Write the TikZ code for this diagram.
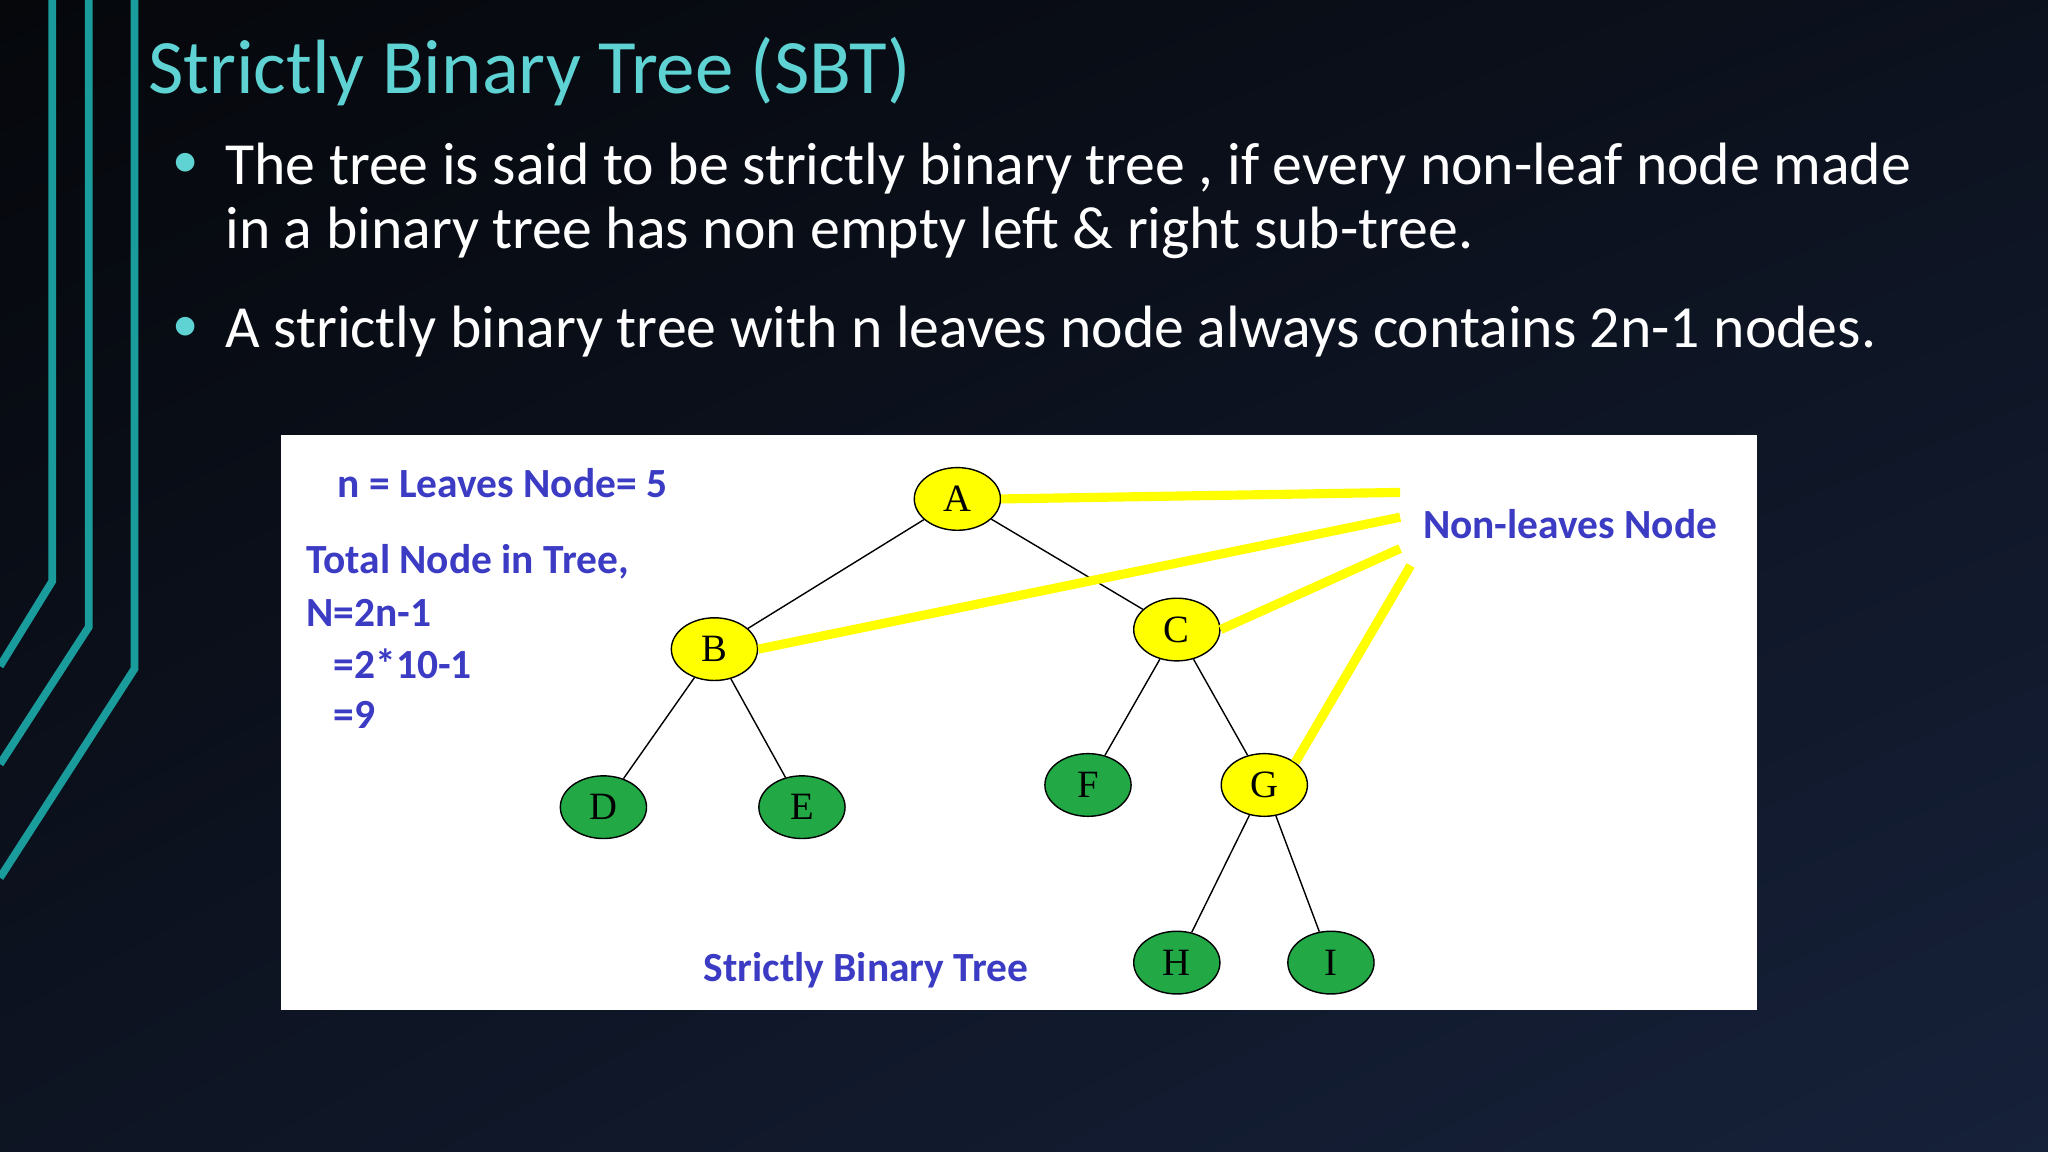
\documentclass[tikz,border=0pt]{standalone}
\usepackage{fontspec}
\setmainfont{Carlito}
\newfontfamily\serifnode{Liberation Serif}
\usetikzlibrary{shapes.geometric,shadings}
\definecolor{teal1}{HTML}{1A9C9C}
\definecolor{titlec}{HTML}{5FD3D3}
\definecolor{lblue}{HTML}{3B3BC4}
\definecolor{ylw}{HTML}{FFFF00}
\definecolor{grn}{HTML}{22A845}
\definecolor{bgtop}{HTML}{05070B}
\definecolor{bgbot}{HTML}{16213A}
\tikzset{
 tn/.style={ellipse,draw=black,thin,minimum width=66*0.01306cm,minimum height=48*0.01306cm,inner sep=0pt,font=\serifnode\fontsize{11pt}{11pt}\selectfont},
 yn/.style={tn,fill=ylw},
 gn/.style={tn,fill=grn},
 edge/.style={black,thin},
 hl/.style={ylw,line width=2.6pt},
 deco/.style={teal1,line width=2.2pt},
 lbl/.style={text=lblue,font=\bfseries\fontsize{11.8pt}{13pt}\selectfont,inner sep=0pt},
 bul/.style={text=white,font=\fontsize{17pt}{20pt}\selectfont,anchor=west,inner sep=0pt}
}
\begin{document}
\begin{tikzpicture}[x=0.01306cm,y=-0.01306cm]
\useasboundingbox (0,0) rectangle (1568,882);
\shade[upper left=bgtop,upper right=bgtop!60!bgbot,lower left=bgtop!50!bgbot,lower right=bgbot] (0,0) rectangle (1568,882);
\draw[deco] (40,0) -- (40,445) -- (0,510);
\draw[deco] (68,0) -- (68,480) -- (0,585);
\draw[deco] (103,0) -- (103,512) -- (0,672);
\node[text=titlec,anchor=west,inner sep=0pt,font=\fontsize{21.9pt}{24pt}\selectfont] (title) at (113,55) {Strictly Binary Tree (SBT)};
\node[text=titlec,font=\fontsize{15pt}{18pt}\selectfont] (b1) at (142,127) {•};
\node[bul] (t1) at (172,129) {The tree is said to be strictly binary tree , if every non-leaf node made};
\node[bul] (t1b) at (172,178) {in a binary tree has non empty left \& right sub-tree.};
\node[text=titlec,font=\fontsize{15pt}{18pt}\selectfont] (b2) at (142,252) {•};
\node[bul] (t2) at (172,254) {A strictly binary tree with n leaves node always contains 2n-1 nodes.};
\fill[white] (215,333) rectangle (1345,773);
\node[yn] (A) at (733,382) {A};
\node[yn] (B) at (547,497) {B};
\node[yn] (C) at (901,482) {C};
\node[gn] (D) at (462,618) {D};
\node[gn] (E) at (614,618) {E};
\node[gn] (F) at (833,601) {F};
\node[yn] (G) at (968,601) {G};
\node[gn] (H) at (901,737) {H};
\node[gn] (I) at (1019,737) {I};
\draw[edge] (A) -- (B); \draw[edge] (A) -- (C);
\draw[edge] (B) -- (D); \draw[edge] (B) -- (E);
\draw[edge] (C) -- (F); \draw[edge] (C) -- (G);
\draw[edge] (G) -- (H); \draw[edge] (G) -- (I);
\coordinate (p1) at (1072,377);
\coordinate (p2) at (1072,396);
\coordinate (p3) at (1072,420);
\coordinate (p4) at (1080,433);
\draw[hl] (A.east) -- (p1);
\draw[hl] (B.east) -- (p2);
\draw[hl] (C.east) -- (p3);
\draw[hl] (G.north east) -- (p4);
\node[lbl,anchor=west] (nl) at (1089,401) {Non-leaves Node};
\node[lbl,anchor=west] (n1) at (258,370) {n = Leaves Node= 5};
\node[lbl,anchor=west] (n2) at (234,430) {Total Node in Tree,};
\node[lbl,anchor=west] (n3) at (234,469) {N=2n-1};
\node[lbl,anchor=west] (n4) at (255,508) {=2*10-1};
\node[lbl,anchor=west] (n5) at (255,547) {=9};
\node[lbl] (cap) at (663,743) {Strictly Binary Tree};
\end{tikzpicture}
\end{document}
